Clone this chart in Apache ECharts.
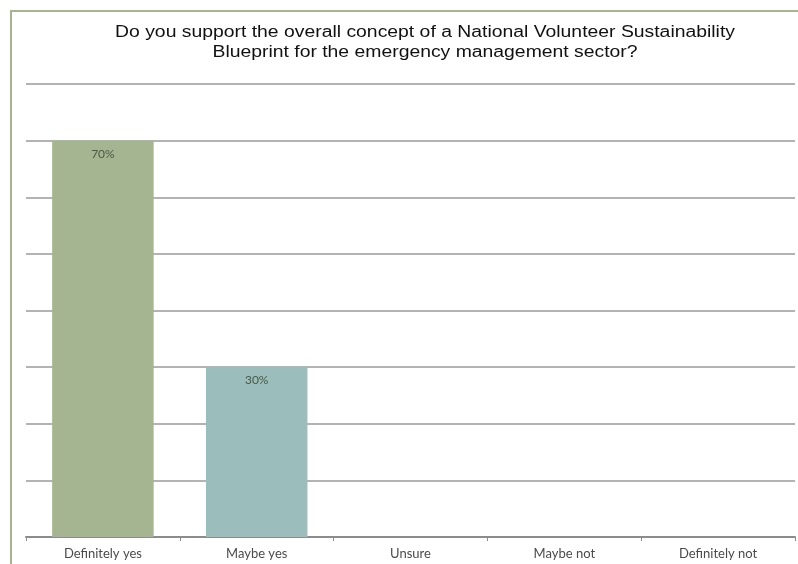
<!DOCTYPE html>
<html>
<head>
<meta charset="utf-8">
<script src="https://cdn.jsdelivr.net/npm/echarts@6/dist/echarts.min.js"></script>
<style>
  html, body { margin: 0; padding: 0; background: #ffffff; }
  #chart { width: 798px; height: 564px; }
</style>
</head>
<body>
<div id="chart"></div>
<script>
// Survey responses (percent of respondents)
const categories = ['Definitely yes', 'Maybe yes', 'Unsure', 'Maybe not', 'Definitely not'];
const responseValues = [70, 30, 0, 0, 0];
const barColors = ['#A5B592', '#9BBDBC', '#A5B592', '#A5B592', '#A5B592'];
const titleLines = [
  'Do you support the overall concept of a National Volunteer Sustainability',
  'Blueprint for the emergency management sector?'
];

const chart = echarts.init(document.getElementById('chart'), null, { renderer: 'canvas' });

// Title is drawn as two wide-set text lines centred over the plot
const titleGraphics = titleLines.map((line, i) => ({
  type: 'text',
  x: 425,
  y: 33 + i * 19.5,
  scaleX: 1.21,
  scaleY: 1,
  silent: true,
  style: {
    text: line,
    fontFamily: 'Liberation Sans, Arial, sans-serif',
    fontSize: 16,
    fill: '#111111',
    textAlign: 'center',
    textVerticalAlign: 'middle'
  }
}));

chart.setOption({
  backgroundColor: '#ffffff',
  animation: false,
  graphic: [{
    type: 'rect',
    shape: { x: 11, y: 11, width: 800, height: 600 },
    style: { fill: 'none', stroke: '#A5B592', lineWidth: 2 },
    silent: true,
    z: -1
  }].concat(titleGraphics),
  grid: { left: 26, right: 3, top: 84, bottom: 27, containLabel: false },
  xAxis: {
    type: 'category',
    data: categories,
    axisLine: { lineStyle: { color: '#8c8c8c', width: 2 } },
    axisTick: { show: true, length: 4, lineStyle: { color: '#8c8c8c', width: 1 } },
    axisLabel: {
      fontFamily: 'Lato, "Open Sans", sans-serif',
      fontSize: 13,
      color: '#4a4a4a',
      margin: 10
    }
  },
  yAxis: {
    type: 'value',
    min: 0,
    max: 80,
    interval: 10,
    axisLine: { show: false },
    axisTick: { show: false },
    axisLabel: { show: false },
    splitLine: { lineStyle: { color: '#9a9a9a', width: 1.5 } }
  },
  series: [{
    type: 'bar',
    data: responseValues.map((v, i) => ({
      value: v,
      itemStyle: { color: barColors[i] }
    })),
    barWidth: '66%',
    label: {
      show: true,
      position: 'insideTop',
      distance: 7,
      formatter: p => (p.value > 0 ? p.value + '%' : ''),
      fontFamily: 'Lato, "Open Sans", sans-serif',
      fontSize: 12,
      color: '#4a5845'
    }
  }]
});
</script>
</body>
</html>
